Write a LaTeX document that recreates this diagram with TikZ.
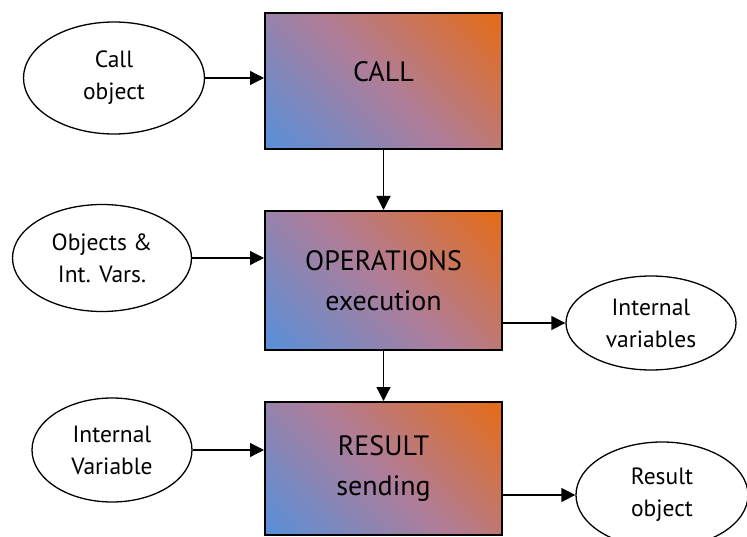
\documentclass[tikz,border=0pt]{standalone}
\usepackage{fontspec}
\setmainfont{PT Sans}
\usetikzlibrary{arrows.meta,shapes.geometric}
\definecolor{boxorange}{HTML}{E46C1A}
\definecolor{boxmid}{HTML}{B07D98}
\definecolor{boxblue}{HTML}{5A8FD8}
\pgfdeclareverticalshading{stagefill}{100bp}{color(0bp)=(boxblue); color(16bp)=(boxblue);
  color(50bp)=(boxmid); color(84bp)=(boxorange); color(100bp)=(boxorange)}
\begin{document}
\begin{tikzpicture}[
  x=1pt, y=-1pt,
  stage/.style={rectangle, draw, line width=2pt, minimum width=237pt,
    align=center, font=\fontsize{28}{40}\selectfont,
    shading=stagefill, shading angle=-45},
  item/.style={ellipse, draw, line width=1.3pt, inner sep=0pt,
    align=center, font=\fontsize{23.5}{32}\selectfont},
  arr/.style={-{Triangle[length=14pt,width=14pt]}, line width=1.3pt}
]
\useasboundingbox (0,0) rectangle (747,537);
% the three stages
\node[stage, minimum height=136pt, text depth=18pt] (callbox) at (383.5,81) {CALL};
\node[stage, minimum height=139pt] (opbox) at (383.5,280.5) {OPERATIONS\\execution};
\node[stage, minimum height=133pt] (resbox) at (383.5,468.5) {RESULT\\sending};
% inputs and outputs
\node[item, minimum width=181pt, minimum height=112pt] (callobj) at (114,78) {Call\\object};
\node[item, minimum width=179pt, minimum height=107pt] (objvars) at (102,258) {Objects \&\\Int. Vars.};
\node[item, minimum width=160pt, minimum height=104pt] (intvar) at (112,450) {Internal\\Variable};
\node[item, minimum width=170pt, minimum height=94pt] (intvars) at (651,323) {Internal\\variables};
\node[item, minimum width=172pt, minimum height=106pt] (resobj) at (662,495) {Result\\object};
% flow
\draw[arr] (callbox) -- (opbox);
\draw[arr] (opbox) -- (resbox);
\draw[arr] (callobj.east) -- (callobj.east -| callbox.west);
\draw[arr] (objvars.east) -- (objvars.east -| opbox.west);
\draw[arr] (intvar.east) -- (intvar.east -| resbox.west);
\draw[arr] (intvars.west -| opbox.east) -- (intvars.west);
\draw[arr] (resobj.west -| resbox.east) -- (resobj.west);
\end{tikzpicture}
\end{document}
